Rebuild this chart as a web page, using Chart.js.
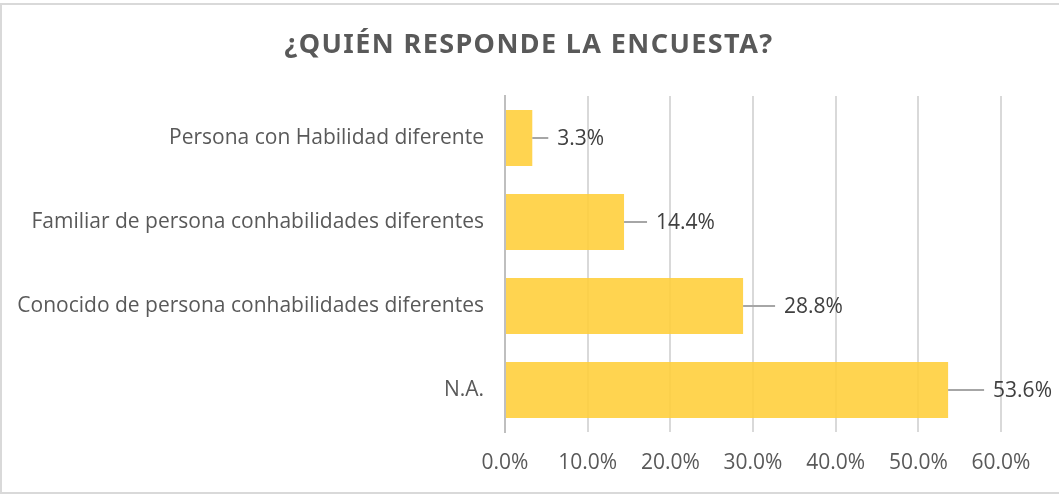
<!DOCTYPE html>
<html>
<head>
<meta charset="utf-8">
<script src="https://cdn.jsdelivr.net/npm/chart.js@4"></script>
<style>
  html, body { margin: 0; padding: 0; background: #fff; }
</style>
</head>
<body>
<canvas id="grafico" width="1059" height="496"></canvas>
<script>
// datos de la encuesta
const categorias = ['Persona con Habilidad diferente', 'Familiar de persona conhabilidades diferentes', 'Conocido de persona conhabilidades diferentes', 'N.A.'];
const porcentajes = [3.3, 14.4, 28.8, 53.6];
const marcasEje = [0, 10, 20, 30, 40, 50, 60];

const titulo = '¿QUIÉN RESPONDE LA ENCUESTA?';
const gris = '#595959';
const fuente = "'Open Sans', 'Noto Sans', sans-serif";

// marco gris claro y titulo
const marco = {
  id: 'marco',
  beforeDraw(chart) {
    const c = chart.ctx;
    c.save();
    c.fillStyle = '#fff';
    c.fillRect(0, 0, chart.width, chart.height);
    c.strokeStyle = '#d9d9d9';
    c.lineWidth = 2;
    c.strokeRect(1, 4, chart.width + 4, chart.height - 7);
    c.font = "bold 27px 'Noto Sans', sans-serif";
    c.letterSpacing = '1.4px';
    c.fillStyle = gris;
    c.textAlign = 'center';
    c.textBaseline = 'middle';
    c.fillText(titulo, 529, 45);
    c.restore();
  }
};

// etiquetas de valor con linea guia
const separacion = [16, 23, 32, 36];
const etiquetas = {
  id: 'etiquetas',
  afterDraw(chart) {
    const c = chart.ctx;
    const meta = chart.getDatasetMeta(0);
    c.save();
    c.font = '21px ' + fuente;
    c.fillStyle = '#404040';
    c.textBaseline = 'middle';
    meta.data.forEach((bar, i) => {
      const x = bar.x, y = bar.y;
      c.strokeStyle = '#a6a6a6';
      c.lineWidth = 2;
      c.beginPath();
      c.moveTo(x, y);
      c.lineTo(x + separacion[i], y);
      c.stroke();
      c.fillText(porcentajes[i].toFixed(1) + '%', x + separacion[i] + 9, y + 1);
    });
    c.restore();
  }
};

new Chart(document.getElementById('grafico'), {
  type: 'bar',
  data: {
    labels: categorias,
    datasets: [{
      data: porcentajes,
      backgroundColor: 'rgba(255, 206, 56, 0.88)',
      borderWidth: 0,
      categoryPercentage: 1,
      barPercentage: 0.667
    }]
  },
  options: {
    indexAxis: 'y',
    responsive: false,
    animation: false,
    layout: { padding: { top: 96, right: 58, bottom: 0, left: 0 } },
    plugins: {
      legend: { display: false },
      tooltip: { enabled: false },
      title: { display: false }
    },
    scales: {
      x: {
        min: 0,
        max: 60,
        afterBuildTicks(scale) { scale.ticks = marcasEje.map(v => ({ value: v })); },
        afterFit(scale) { scale.height = 64; },
        grid: { color: '#d9d9d9', lineWidth: 2, drawTicks: false },
        border: { display: false },
        ticks: {
          color: gris,
          font: { family: fuente, size: 21 },
          padding: 18,
          callback: v => v.toFixed(1) + '%'
        }
      },
      y: {
        afterFit(scale) { scale.width = 505; },
        grid: { display: false, drawTicks: false },
        border: { display: true, color: '#bfbfbf', width: 2 },
        ticks: {
          color: gris,
          font: { family: fuente, size: 21 },
          padding: 21
        }
      }
    }
  },
  plugins: [marco, etiquetas]
});
</script>
</body>
</html>
